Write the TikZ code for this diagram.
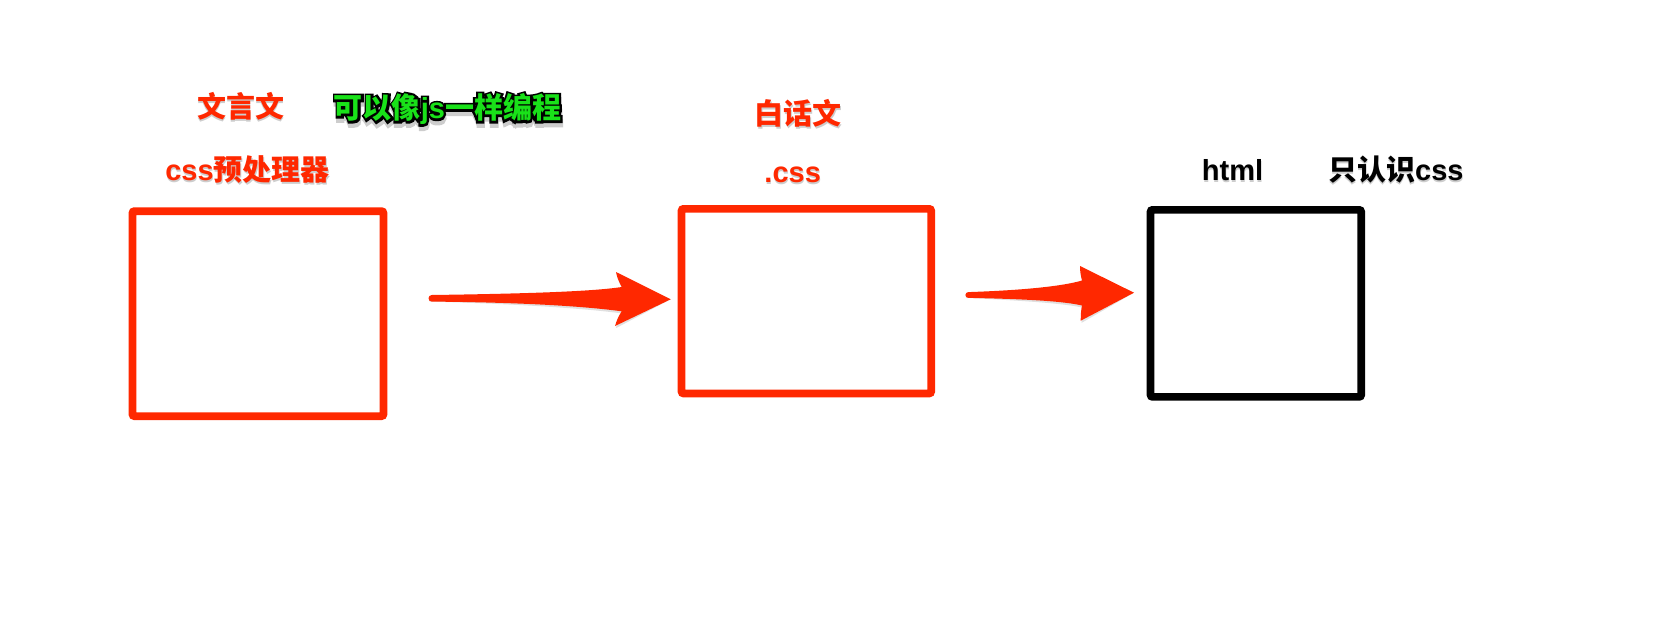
\documentclass[tikz,border=0pt]{standalone}
\usepackage{fontspec}
\setmainfont{Liberation Sans}
\newfontfamily\cjk{Noto Sans CJK SC Bold}
\newfontfamily\cjkstroke{Noto Sans CJK SC Bold}[FakeBold=15]
\newfontfamily\latstroke{Liberation Sans Bold}[FakeBold=15]
\usetikzlibrary{calc}
\definecolor{myred}{RGB}{255,40,0}
\definecolor{mygreen}{RGB}{25,225,25}
\definecolor{myshadow}{RGB}{205,205,205}
% text with a soft drop shadow, all in one node text
\newcommand\shadowed[2]{\rlap{\hspace*{0.5pt}\raisebox{-2pt}[0pt][0pt]{\textcolor{myshadow}{#2}}}\textcolor{#1}{#2}}
\begin{document}
\begin{tikzpicture}[x=1pt,y=-1pt,
  txt/.style={inner sep=0pt, outer sep=0pt, font=\fontsize{29}{34}\selectfont\bfseries},
  boxnode/.style={line width=7.7pt, rounded corners=2pt, inner sep=0pt, outer sep=0pt},
  arrowshape/.style={fill=myred},
  arrowshadow/.style={fill=black, opacity=0.12}]
\useasboundingbox (0,0) rectangle (1680,643);
\fill[white] (0,0) rectangle (1680,643);

% boxes
\node[boxnode, draw=myred, minimum width=251pt, minimum height=205pt] (b1) at (257.95,313.65) {};
\node[boxnode, draw=myred, minimum width=249.6pt, minimum height=184.6pt] (b2) at (806.35,301.15) {};
\node[boxnode, draw=black, minimum width=210.6pt, minimum height=187pt] (b3) at (1255.85,303.35) {};

% arrow 1
\coordinate (t1) at (431.7,298.3);
\coordinate (h1) at (670.7,299.3);
\begin{scope}[shift={(0.8,2.2)}]
\path[arrowshadow] ($(t1)+(0,-3.3)$) .. controls (540,293.5) and (595,291) .. (621.7,287)
  .. controls (618.5,281) and (617,277) .. (616,272) -- (h1) -- (615,326)
  .. controls (616.5,321) and (618.5,316) .. (621.7,311.3)
  .. controls (595,307.7) and (540,302.5) .. ($(t1)+(0,3.3)$)
  .. controls (427.5,301.6) and (427.5,295) .. cycle;
\end{scope}
\path[arrowshape] ($(t1)+(0,-3.3)$) .. controls (540,293.5) and (595,291) .. (621.7,287)
  .. controls (618.5,281) and (617,277) .. (616,272) -- (h1) -- (615,326)
  .. controls (616.5,321) and (618.5,316) .. (621.7,311.3)
  .. controls (595,307.7) and (540,302.5) .. ($(t1)+(0,3.3)$)
  .. controls (427.5,301.6) and (427.5,295) .. cycle;

% arrow 2
\coordinate (t2) at (968.3,295);
\coordinate (h2) at (1134,292.7);
\begin{scope}[shift={(0.8,2.2)}]
\path[arrowshadow] ($(t2)+(0,-2.9)$) .. controls (1030,290) and (1065,285.5) .. (1082,280.5)
  .. controls (1080.7,276) and (1080,271) .. (1080,266) -- (h2) -- (1080.7,320.7)
  .. controls (1080.7,315) and (1081,310) .. (1082,305.5)
  .. controls (1065,301.5) and (1030,299) .. ($(t2)+(0,2.9)$)
  .. controls (964.5,297.9) and (964.5,292.1) .. cycle;
\end{scope}
\path[arrowshape] ($(t2)+(0,-2.9)$) .. controls (1030,290) and (1065,285.5) .. (1082,280.5)
  .. controls (1080.7,276) and (1080,271) .. (1080,266) -- (h2) -- (1080.7,320.7)
  .. controls (1080.7,315) and (1081,310) .. (1082,305.5)
  .. controls (1065,301.5) and (1030,299) .. ($(t2)+(0,2.9)$)
  .. controls (964.5,297.9) and (964.5,292.1) .. cycle;

% labels
\node[txt] (wyw)  at (240.8,106.7) {\shadowed{myred}{\cjk 文言文}};
\node[txt] (pre)  at (247.5,170)   {\shadowed{myred}{css{\cjk 预处理器}}};
\node[txt] (bhw)  at (798.3,113.3) {\shadowed{myred}{\cjk 白话文}};
\node[txt] (dcss) at (792.7,175)   {\shadowed{myred}{.css}};
\node[txt] (html) at (1232.5,170)  {\shadowed{black}{html}};
\node[txt] (zrs)  at (1395.8,170)  {\shadowed{black}{{\cjk 只认识}css}};
% green text with a black outline: a stroked black copy under the green one
\node[txt] (js) at (447.5,109.2) {%
  \rlap{\hspace*{0.5pt}\raisebox{-4.3pt}[0pt][0pt]{\textcolor{myshadow}{{\cjkstroke 可以像}{\latstroke js}{\cjkstroke 一样编程}}}}%
  \rlap{\textcolor{black}{{\cjkstroke 可以像}{\latstroke js}{\cjkstroke 一样编程}}}%
  \textcolor{mygreen}{{\cjk 可以像}js{\cjk 一样编程}}};
\end{tikzpicture}
\end{document}
